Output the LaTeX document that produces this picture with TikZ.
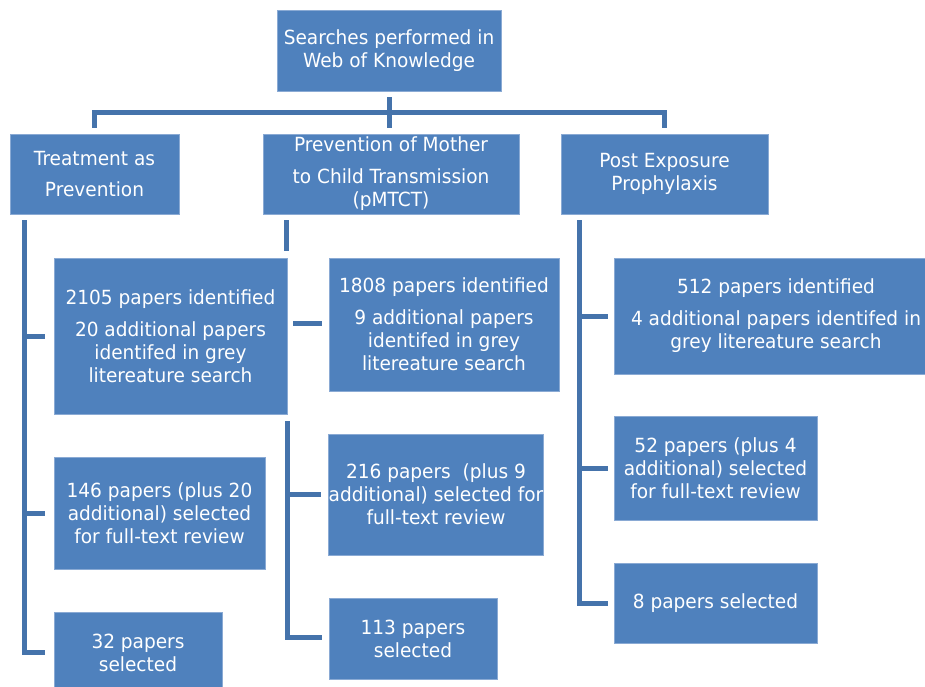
\documentclass[tikz,border=0pt]{standalone}
\usepackage{fontspec}
\setmainfont{DejaVu Sans}[FakeStretch=0.95]
\usetikzlibrary{calc}
\definecolor{boxblue}{HTML}{4F81BD}
\definecolor{boxedge}{HTML}{8AAAD4}
\definecolor{linecol}{HTML}{4573AB}
\tikzset{
  box/.style={fill=boxblue, draw=boxedge, line width=0.8pt, text=white, inner sep=0pt, align=center,
    font=\fontsize{19.5}{23}\selectfont},
  conn/.style={draw=linecol, line width=5pt, line join=miter}
}
\begin{document}
\begin{tikzpicture}[x=1pt,y=-1pt]
\useasboundingbox (0,0) rectangle (925,686);
% boxes
\node[box, minimum width=224pt, minimum height=81pt] (top) at (389,50.5) {Searches performed in\\Web of Knowledge};
\node[box, minimum width=169pt, minimum height=80pt] (tasp) at (94.5,174) {Treatment as\\[8pt]Prevention};
\node[box, minimum width=256pt, minimum height=80pt] (pmtct) at (391,174) {Prevention of Mother\\[9pt]to Child Transmission\\(pMTCT)};
\node[box, minimum width=207pt, minimum height=80pt] (pep) at (664.5,174) {Post Exposure\\Prophylaxis};
\node[box, minimum width=233pt, minimum height=156pt] (a1) at (170.5,336) {2105 papers identified\\[9pt]20 additional papers\\identifed in grey\\litereature search};
\node[box, minimum width=230pt, minimum height=133pt] (b1) at (444,324.5) {1808 papers identified\\[9pt]9 additional papers\\identifed in grey\\litereature search};
\node[box, minimum width=324pt, minimum height=116pt] (c1) at (776,316) {512 papers identified\\[9pt]4 additional papers identifed in\\grey litereature search};
\node[box, minimum width=211pt, minimum height=112pt] (a2) at (159.5,513) {146 papers (plus 20\\additional) selected\\for full-text review};
\node[box, minimum width=214pt, minimum height=121pt] (b2) at (436,494.5) {216 papers\ \ (plus 9\\additional) selected for\\full-text review};
\node[box, minimum width=203pt, minimum height=104pt] (c2) at (715.5,468) {52 papers (plus 4\\additional) selected\\for full-text review};
\node[box, minimum width=168pt, minimum height=81pt] (a3) at (138,652.5) {32 papers\\selected};
\node[box, minimum width=168pt, minimum height=81pt] (b3) at (413,638.5) {113 papers\\selected};
\node[box, minimum width=203pt, minimum height=80pt] (c3) at (715.5,603) {8 papers selected};
% top connectors
\draw[conn] ($(top.south)+(0,6)$) -- ($(top.south |- pmtct.north)+(0,-6)$);
\draw[conn] ($(tasp.north)+(0,-6)$) -- ($(tasp.north)+(0,-21)$) -- ($(pep.north)+(0,-21)$) -- ($(pep.north)+(0,-6)$);
% treatment branch
\coordinate (tl) at ($(tasp.south west)+(15,6)$);
\draw[conn] (tl) |- ($(a3.west)+(-9,0)$);
\draw[conn] (tl |- a1.west) -- ($(a1.west)+(-9,0)$);
\draw[conn] (tl |- a2.west) -- ($(a2.west)+(-9,0)$);
% pmtct branch
\coordinate (pl) at ($(pmtct.south west)+(24,6)$);
\draw[conn] (pl) -- ($(pmtct.south west)+(24,37)$);
\draw[conn] ($(a1.east |- b1.west)+(6,-1)$) -- ($(b1.west)+(-7,-1)$);
\coordinate (pl2) at ($(a1.south east)+(0,7)$);
\draw[conn] (pl2) |- ($(b3.west)+(-7,-1)$);
\draw[conn] (pl2 |- b2.west) -- ($(b2.west)+(-7,0)$);
% pep branch
\coordinate (ql) at ($(pep.south west)+(19,6)$);
\draw[conn] (ql) |- ($(c3.west)+(-6,0)$);
\draw[conn] (ql |- c1.west) -- ($(c1.west)+(-6,0)$);
\draw[conn] (ql |- c2.west) -- ($(c2.west)+(-6,0)$);
\end{tikzpicture}
\end{document}
